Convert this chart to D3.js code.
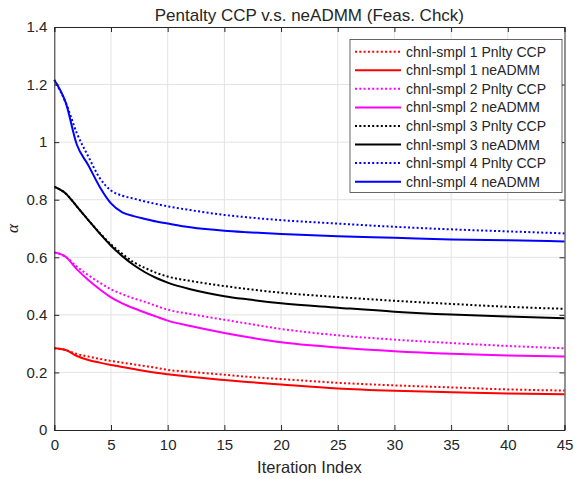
<!DOCTYPE html>
<html lang="en">

<head>
    <meta charset="UTF-8">
    <title>Pentalty CCP v.s. neADMM</title>

    <script src="https://d3js.org/d3.v7.min.js"></script>

    <style>
        body {
            margin: 0;
            background: white;
        }

        svg text {
            font-family: "Liberation Sans", Arial, sans-serif;
            fill: #262626;
        }
    </style>

</head>

<body>
    <svg width="574" height="479"></svg>

    <script>
        const iters = [0, 1, 2, 3, 4, 5, 6, 7, 8, 9, 10, 12, 15, 17, 20, 25, 30, 35, 40, 45];

        const ccp1 = [0.284, 0.278, 0.264, 0.255, 0.247, 0.240, 0.234, 0.228, 0.222, 0.216, 0.209, 0.202, 0.192, 0.185, 0.177, 0.164, 0.155, 0.148, 0.141, 0.137];
        const admm1 = [0.284, 0.278, 0.257, 0.243, 0.234, 0.226, 0.219, 0.212, 0.205, 0.199, 0.194, 0.185, 0.174, 0.167, 0.158, 0.144, 0.136, 0.131, 0.127, 0.124];
        const ccp2 = [0.617, 0.602, 0.567, 0.538, 0.512, 0.489, 0.472, 0.457, 0.445, 0.431, 0.418, 0.403, 0.383, 0.370, 0.351, 0.329, 0.314, 0.302, 0.292, 0.284];
        const admm2 = [0.617, 0.602, 0.558, 0.521, 0.489, 0.461, 0.440, 0.423, 0.408, 0.394, 0.380, 0.361, 0.337, 0.323, 0.305, 0.287, 0.274, 0.265, 0.259, 0.255];
        const ccp3 = [0.845, 0.822, 0.776, 0.729, 0.685, 0.645, 0.612, 0.583, 0.563, 0.546, 0.533, 0.518, 0.500, 0.490, 0.477, 0.462, 0.449, 0.438, 0.428, 0.421];
        const admm3 = [0.845, 0.822, 0.776, 0.729, 0.683, 0.640, 0.604, 0.573, 0.548, 0.528, 0.512, 0.489, 0.465, 0.454, 0.440, 0.425, 0.411, 0.401, 0.394, 0.388];
        const ccp4 = [1.216, 1.138, 1.030, 0.950, 0.876, 0.832, 0.814, 0.804, 0.794, 0.785, 0.777, 0.764, 0.747, 0.739, 0.729, 0.717, 0.706, 0.697, 0.690, 0.683];
        const admm4 = [1.216, 1.138, 0.990, 0.920, 0.845, 0.787, 0.756, 0.743, 0.733, 0.724, 0.717, 0.704, 0.692, 0.687, 0.681, 0.673, 0.668, 0.662, 0.659, 0.655];

        const seriesNames = [
            "chnl-smpl 1 Pnlty CCP", "chnl-smpl 1 neADMM",
            "chnl-smpl 2 Pnlty CCP", "chnl-smpl 2 neADMM",
            "chnl-smpl 3 Pnlty CCP", "chnl-smpl 3 neADMM",
            "chnl-smpl 4 Pnlty CCP", "chnl-smpl 4 neADMM"
        ];
        const seriesValues = [ccp1, admm1, ccp2, admm2, ccp3, admm3, ccp4, admm4];
        const seriesColors = ["#ff0000", "#ff0000", "#ff00ff", "#ff00ff", "#000000", "#000000", "#0000ff", "#0000ff"];

        const xTicks = [0, 5, 10, 15, 20, 25, 30, 35, 40, 45];
        const yTicks = [0, 0.2, 0.4, 0.6, 0.8, 1, 1.2, 1.4];

        const plotLeft = 54.3, plotRight = 564.5, plotTop = 27, plotBottom = 430;
        const axisColor = "#262626";

        let svg = d3.select("svg");

        const x = d3.scaleLinear().domain([0, 45]).range([plotLeft, plotRight]);
        const y = d3.scaleLinear().domain([0, 1.4]).range([plotBottom, plotTop]);

        // grid
        svg.append("g").selectAll("line")
            .data(xTicks.slice(1, -1))
            .enter().append("line")
            .attr("x1", d => x(d)).attr("x2", d => x(d))
            .attr("y1", plotTop).attr("y2", plotBottom)
            .attr("stroke", "#e3e3e3").attr("stroke-width", 1);
        svg.append("g").selectAll("line")
            .data(yTicks.slice(1, -1))
            .enter().append("line")
            .attr("x1", plotLeft).attr("x2", plotRight)
            .attr("y1", d => y(d)).attr("y2", d => y(d))
            .attr("stroke", "#e3e3e3").attr("stroke-width", 1);

        // curves
        const line = d3.line()
            .x((d, i) => x(iters[i]))
            .y(d => y(d))
            .curve(d3.curveMonotoneX);

        svg.append("g").selectAll("path")
            .data(seriesValues)
            .enter().append("path")
            .attr("d", d => line(d))
            .attr("fill", "none")
            .attr("stroke", (d, i) => seriesColors[i])
            .attr("stroke-width", 2)
            .attr("stroke-dasharray", (d, i) => i % 2 === 0 ? "2,2.3" : null);

        // axes: bottom and left with labels, top and right as the box with inner ticks
        const xAxis = d3.axisBottom(x).tickValues(xTicks).tickSize(-5).tickPadding(9).tickFormat(d3.format("d"));
        const yAxis = d3.axisLeft(y).tickValues(yTicks).tickSize(-5).tickPadding(7).tickFormat(d => String(d));

        const gx = svg.append("g").attr("transform", `translate(0,${plotBottom})`).call(xAxis);
        const gy = svg.append("g").attr("transform", `translate(${plotLeft},0)`).call(yAxis);
        const gxTop = svg.append("g").attr("transform", `translate(0,${plotTop})`)
            .call(d3.axisTop(x).tickValues(xTicks).tickSize(-5).tickFormat(""));
        const gyRight = svg.append("g").attr("transform", `translate(${plotRight},0)`)
            .call(d3.axisRight(y).tickValues(yTicks).tickSize(-5).tickFormat(""));

        [gx, gy, gxTop, gyRight].forEach(g => {
            g.select(".domain").attr("stroke", axisColor).attr("stroke-width", 1);
            g.selectAll(".tick line").attr("stroke", axisColor);
            g.selectAll(".tick text").attr("fill", axisColor)
                .style("font-size", "15px").style("font-family", "Liberation Sans, Arial, sans-serif");
        });

        // title and labels
        svg.append("text")
            .attr("x", (plotLeft + plotRight) / 2).attr("y", 21)
            .attr("text-anchor", "middle")
            .style("font-size", "17px")
            .text("Pentalty CCP v.s. neADMM (Feas. Chck)");

        svg.append("text")
            .attr("x", (plotLeft + plotRight) / 2).attr("y", 473)
            .attr("text-anchor", "middle")
            .style("font-size", "16.5px")
            .text("Iteration Index");

        svg.append("text")
            .attr("transform", `translate(18,${(plotTop + plotBottom) / 2}) rotate(-90)`)
            .attr("text-anchor", "middle")
            .style("font-family", "Liberation Serif, serif")
            .style("font-style", "italic")
            .style("font-size", "17px")
            .text("α");

        // legend
        const lgX = 350, lgY = 39.5, lgW = 212, lgH = 153, rowH = 18.57;
        const legend = svg.append("g");
        legend.append("rect")
            .attr("x", lgX).attr("y", lgY).attr("width", lgW).attr("height", lgH)
            .attr("fill", "white").attr("stroke", "#404040").attr("stroke-width", 0.8);

        const rows = legend.selectAll("g")
            .data(seriesNames)
            .enter().append("g")
            .attr("transform", (d, i) => `translate(0,${lgY + 12.2 + i * rowH})`);
        rows.append("line")
            .attr("x1", lgX + 5).attr("x2", lgX + 51)
            .attr("y1", 0).attr("y2", 0)
            .attr("stroke", (d, i) => seriesColors[i])
            .attr("stroke-width", 2)
            .attr("stroke-dasharray", (d, i) => i % 2 === 0 ? "2,2.3" : null);
        rows.append("text")
            .attr("x", lgX + 56).attr("y", 0)
            .attr("dy", "0.36em")
            .style("font-size", "14px")
            .text(d => d);
    </script>
</body>

</html>
